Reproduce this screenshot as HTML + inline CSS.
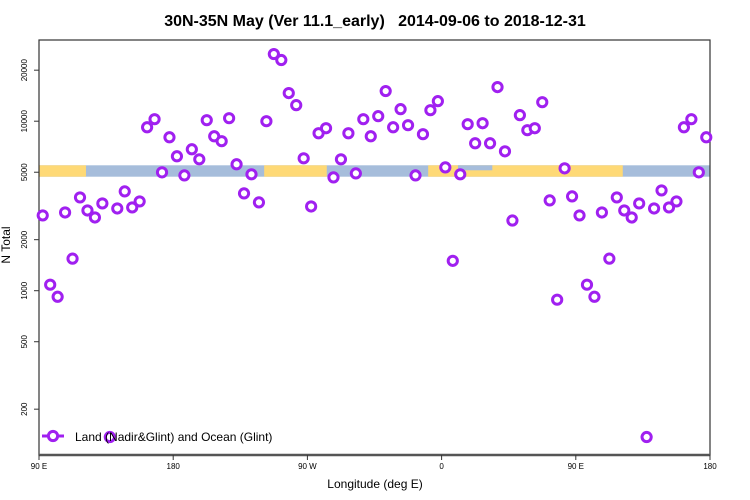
<!DOCTYPE html>
<html><head><meta charset="utf-8"><style>
body{margin:0;background:#fff;}
svg{display:block;font-family:"Liberation Sans",sans-serif;}
</style></head><body>
<svg id="chart" width="750" height="500" viewBox="0 0 750 500">
<text x="375" y="26" text-anchor="middle" font-size="16" font-weight="bold">30N-35N May (Ver 11.1_early)&#160;&#160; 2014-09-06 to 2018-12-31</text>
<g id="band"></g>
<g id="axes"></g>
<g id="marks"></g>
<g>
<line x1="42" y1="436" x2="64" y2="436" stroke="#a020f0" stroke-width="3"/>
<circle cx="53" cy="436" r="4.6" fill="#fff" stroke="#a020f0" stroke-width="3"/>
<text x="75" y="441" font-size="12">Land (Nadir&amp;Glint) and Ocean (Glint)</text>
</g>
<text x="375" y="488" text-anchor="middle" font-size="12">Longitude (deg E)</text>
<text transform="translate(10,245) rotate(-90)" text-anchor="middle" font-size="12">N Total</text>
</svg>
<script>
const lons=[92.5,97.5,102.5,107.5,112.5,117.5,122.5,127.5,132.5,137.5,142.5,147.5,152.5,157.5,162.5,167.5,172.5,177.5,182.5,187.5,192.5,197.5,202.5,207.5,212.5,217.5,222.5,227.5,232.5,237.5,242.5,247.5,252.5,257.5,262.5,267.5,272.5,277.5,282.5,287.5,292.5,297.5,302.5,307.5,312.5,317.5,322.5,327.5,332.5,337.5,342.5,347.5,352.5,357.5,362.5,367.5,372.5,377.5,382.5,387.5,392.5,397.5,402.5,407.5,412.5,417.5,422.5,427.5,432.5,437.5,442.5,447.5,452.5,457.5,462.5,467.5,472.5,477.5,482.5,487.5,492.5,497.5,502.5,507.5,512.5,517.5,522.5,527.5,532.5,537.5];
const nTotal=[2780,1085,921,2894,1546,3550,2974,2704,3272,137,3055,3854,3098,3363,9210,10280,4990,8040,6210,4790,6830,5960,10140,8150,7620,10420,5570,3750,4860,3318,10000,24900,22960,14650,12440,6040,3140,8490,9090,4660,5960,8490,4920,10280,8150,10710,15060,9210,11780,9470,4790,8380,11610,13130,5340,1500,4860,9600,7410,9730,7410,15890,6640,2595,10860,8850,9090,12950,3410,885,5270,3600,2780,1085,921,2894,1546,3550,2974,2704,3272,137,3055,3905,3098,3363,9210,10280,4990,8040];
const yTicks=[200,500,1000,2000,5000,10000,20000];
const xTickLons=[90,180,270,360,450,540];
const xTickLabels=["90 E","180","90 W","0","90 E","180"];
const landSegs=[[90,121.5],[241,283],[351,481.5]];
const NS="http://www.w3.org/2000/svg";
const X0=39,X1=710,Y0=40,Y1=455;
function sx(l){return X0+(l-90)/450*(X1-X0);}
function sy(v){return 290.7-169.5*(Math.log10(v)-3);}
function mk(t,a,p){const e=document.createElementNS(NS,t);for(const k in a)e.setAttribute(k,a[k]);p.appendChild(e);return e;}
const band=document.getElementById('band');
mk('rect',{x:X0,y:165.3,width:X1-X0,height:11.4,fill:'#a6bddb'},band);
landSegs.forEach(s=>{const r=mk('rect',{x:sx(s[0]),y:165.3,width:sx(s[1])-sx(s[0]),height:11.4,fill:'#fed976'},band);

});
mk('rect',{x:sx(371),y:165.3,width:sx(394)-sx(371),height:5,fill:'#a6bddb'},band);
const ax=document.getElementById('axes');
const box=mk('rect',{x:X0,y:Y0,width:X1-X0,height:Y1-Y0,fill:'none',stroke:'#333','stroke-width':1.2},ax);


mk('line',{x1:X0,y1:Y1,x2:X1,y2:Y1,stroke:'#555','stroke-width':2.5},ax);
yTicks.forEach(v=>{const y=sy(v);mk('line',{x1:X0-5,y1:y,x2:X0,y2:y,stroke:'#333'},ax);
const t=mk('text',{transform:`translate(27,${y}) rotate(-90)`,'text-anchor':'middle','font-size':8},ax);t.textContent=v;

});
xTickLons.forEach((l,i)=>{const x=sx(l);mk('line',{x1:x,y1:Y1,x2:x,y2:Y1+5,stroke:'#333'},ax);
const t=mk('text',{x:x,y:469,'text-anchor':'middle','font-size':8},ax);t.textContent=xTickLabels[i];

});
const g=document.getElementById('marks');
lons.forEach((l,i)=>{const c=mk('circle',{cx:sx(l),cy:sy(nTotal[i]),r:4.6,fill:'#fff',stroke:'#a020f0','stroke-width':3},g);

});
</script>
</body></html>
